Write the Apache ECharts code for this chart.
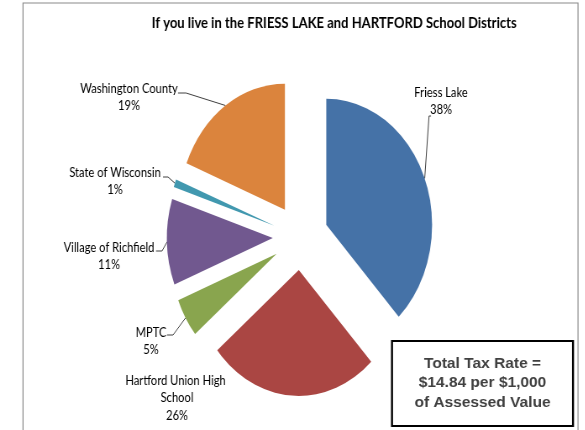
<!DOCTYPE html>
<html>
<head>
<meta charset="utf-8">
<script src="https://cdn.jsdelivr.net/npm/echarts@6/dist/echarts.min.js"></script>
<style>
  html, body { margin: 0; padding: 0; background: #fff; overflow: hidden; }
  #wrap { width: 585px; height: 430px; overflow: hidden; position: relative; }
  #chart { position: absolute; left: 0; top: 0; height: 430px; transform-origin: 0 0; }
</style>
</head>
<body>
<div id="wrap"><div id="chart"></div></div>
<script>
// ---- data ----
const chartTitle = 'If you live in the FRIESS LAKE and HARTFORD School Districts';
const categories = ['Friess Lake', 'Hartford Union High School', 'MPTC', 'Village of Richfield', 'State of Wisconsin', 'Washington County'];
const shares = [38, 26, 5, 11, 1, 19];
const noteLines = ['Total Tax Rate =', '$14.84 per $1,000', 'of Assessed Value'];

// ---- styles / layout ----
const colors = ['#4572A7', '#AA4643', '#89A54E', '#71588F', '#4198AF', '#DB843D'];
const S = 0.84;                      // horizontal squeeze of the original picture
const W = 585 / S;
const CENTER = [300.5 / S, 237];
const RADIUS = 126;
const EXPLODE = 33;
// label block centres and leader elbows, in picture pixels
const labelSpots = [
  { cx: 441, cy: 101, line: [[429, 116], [431, 116]] },
  { cx: 177, cy: 398, line: null },
  { cx: 151, cy: 341, line: [[173, 335], [167, 335]] },
  { cx: 109, cy: 256, line: [[162, 251], [156, 251]] },
  { cx: 115, cy: 181, line: [[168, 177], [163, 177]] },
  { cx: 129, cy: 97,  line: [[186, 93], [178, 93]] }
];

// mid angle (radians, clockwise from 12 o'clock) of each slice, from the data
const total = shares.reduce(function (a, b) { return a + b; }, 0);
const midAngles = [];
(function () {
  let acc = 0;
  shares.forEach(function (v) { midAngles.push((acc + v / 2) / total * 2 * Math.PI); acc += v; });
})();

const el = document.getElementById('chart');
el.style.width = W + 'px';
el.style.transform = 'scaleX(' + S + ')';
const chart = echarts.init(el, null, { renderer: 'canvas' });

const labelFont = 'Lato';
const common = {
  type: 'pie',
  center: CENTER,
  radius: RADIUS,
  startAngle: 90,
  clockwise: true,
  percentPrecision: 0,
  avoidLabelOverlap: false,
  silent: true,
  emphasis: { disabled: true }
};

chart.setOption({
  backgroundColor: '#ffffff',
  animation: false,
  title: {
    text: chartTitle,
    left: 330 / S,
    top: 10,
    textAlign: 'center',
    textStyle: { fontFamily: labelFont, fontWeight: 'bold', fontSize: 15.5, color: '#000000' }
  },
  graphic: [
    {
      type: 'rect',
      shape: { x: 23 / S, y: 3, width: (578 - 23) / S, height: 520 },
      style: { fill: 'none', stroke: '#8a8a8a', lineWidth: 1.2 },
      silent: true, z: -1
    },
    {
      type: 'group',
      x: 392 / S, y: 341, scaleX: 1 / S, z: 10,
      children: [
        { type: 'rect', shape: { x: 0, y: 0, width: 181, height: 85 },
          style: { fill: '#ffffff', stroke: '#000000', lineWidth: 2 } },
        { type: 'text', x: 90.5, y: 42,
          style: { text: noteLines.join('\n'), align: 'center', verticalAlign: 'middle',
                   lineHeight: 19.5, fontFamily: 'Liberation Sans', fontWeight: 'bold',
                   fontSize: 15.5, fill: '#404040' } }
      ]
    }
  ],
  series: [
    // exploded slices
    Object.assign({}, common, {
      selectedMode: 'multiple',
      selectedOffset: EXPLODE,
      itemStyle: { borderWidth: 0 },
      label: { show: false },
      labelLine: { show: false },
      data: categories.map(function (name, i) {
        return { name: name, value: shares[i], selected: true, itemStyle: { color: colors[i] } };
      })
    }),
    // data labels (same data, unexploded, invisible sectors)
    Object.assign({}, common, {
      itemStyle: { color: 'rgba(0,0,0,0)', borderWidth: 0 },
      label: {
        show: true,
        position: 'outside',
        formatter: '{b}\n{d}%',
        fontFamily: labelFont,
        fontSize: 13.3,
        lineHeight: 17.5,
        color: '#000000',
        align: 'center'
      },
      labelLine: { show: true, lineStyle: { color: '#404040', width: 1 } },
      labelLayout: function (p) {
        const i = p.dataIndex;
        const spot = labelSpots[i];
        const out = { x: spot.cx / S, y: spot.cy, align: 'center', verticalAlign: 'middle' };
        if (spot.line) {
          const a = midAngles[i];
          const start = [CENTER[0] + (RADIUS + EXPLODE) * Math.sin(a),
                         CENTER[1] - (RADIUS + EXPLODE) * Math.cos(a)];
          out.labelLinePoints = [start].concat(
            spot.line.map(function (q) { return [q[0] / S, q[1]]; }));
        }
        return out;
      },
      data: categories.map(function (name, i) {
        const item = { name: name, value: shares[i] };
        if (i === 1) {
          item.label = { width: 125, overflow: 'break' };
          item.labelLine = { show: false };
        }
        return item;
      })
    })
  ]
});
</script>
</body>
</html>
